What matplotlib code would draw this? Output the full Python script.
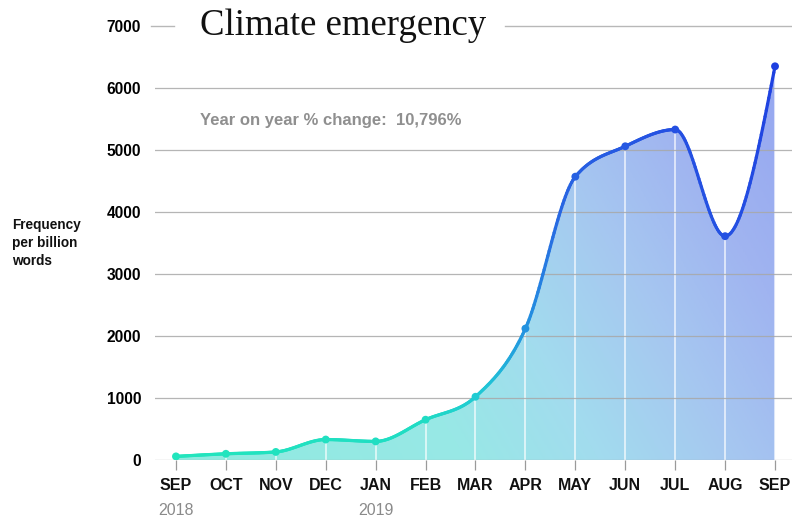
import numpy as np
import matplotlib
matplotlib.use("Agg")
import matplotlib.pyplot as plt
from matplotlib.collections import LineCollection
from matplotlib.colors import LinearSegmentedColormap
from matplotlib.patches import Polygon

# Monthly frequency per billion words for "climate emergency"
months = ["SEP", "OCT", "NOV", "DEC", "JAN", "FEB", "MAR",
          "APR", "MAY", "JUN", "JUL", "AUG", "SEP"]
years = {0: "2018", 4: "2019"}
frequency = [58, 100, 130, 330, 300, 650, 1020,
             2120, 4570, 5060, 5330, 3610, 6350]
y_ticks = [0, 1000, 2000, 3000, 4000, 5000, 6000, 7000]
title = "Climate emergency"
note = "Year on year % change:  10,796%"
ylabel = "Frequency\nper billion\nwords"


def monotone_curve(x, y, n=40):
    """Monotone cubic interpolation (Steffen slopes, as in d3.curveMonotoneX)."""
    x = np.asarray(x, float)
    y = np.asarray(y, float)
    h = np.diff(x)
    s = np.diff(y) / h
    t = np.zeros_like(y)
    for i in range(1, len(y) - 1):
        p = (s[i - 1] * h[i] + s[i] * h[i - 1]) / (h[i - 1] + h[i])
        t[i] = (np.sign(s[i - 1]) + np.sign(s[i])) * min(
            abs(s[i - 1]), abs(s[i]), 0.5 * abs(p))
    t[0] = (3 * s[0] - t[1]) / 2
    t[-1] = (3 * s[-1] - t[-2]) / 2
    xs, ys = [], []
    for i in range(len(x) - 1):
        u = np.linspace(0, 1, n, endpoint=False)
        h00 = 2 * u**3 - 3 * u**2 + 1
        h10 = u**3 - 2 * u**2 + u
        h01 = -2 * u**3 + 3 * u**2
        h11 = u**3 - u**2
        xs.append(x[i] + u * h[i])
        ys.append(h00 * y[i] + h10 * h[i] * t[i] + h01 * y[i + 1] + h11 * h[i] * t[i + 1])
    xs.append([x[-1]])
    ys.append([y[-1]])
    return np.concatenate(xs), np.concatenate(ys)


XLIM = (-0.42, 12.34)
YLIM = (0, 7000)
AX_W, AX_H = 637, 434  # axes size in pixels


def diag(x, y, angle=30):
    """Position along a bottom-left -> top-right gradient axis (0..1)."""
    px = (np.asarray(x) - XLIM[0]) / (XLIM[1] - XLIM[0]) * AX_W
    py = (np.asarray(y) - YLIM[0]) / (YLIM[1] - YLIM[0]) * AX_H
    a = np.deg2rad(angle)
    return (px * np.cos(a) + py * np.sin(a)) / (AX_W * np.cos(a) + AX_H * np.sin(a))


xi = np.arange(len(months))
cx, cy = monotone_curve(xi, frequency)
xmax = xi[-1]

line_cmap = LinearSegmentedColormap.from_list(
    "line", [(0.0, "#22e6bc"), (0.33, "#20dcc4"), (0.42, "#20c6d6"),
             (0.5, "#2394e0"), (0.62, "#2866e2"), (0.8, "#2450e2"),
             (1.0, "#1c3ce0")])
fill_cmap = LinearSegmentedColormap.from_list(
    "fill", [(0.0, "#8eebdf"), (0.35, "#98e8e6"), (0.5, "#a2dcee"),
             (0.65, "#a6c8f0"), (0.8, "#a0b4f0"), (1.0, "#93a3f0")])

fig = plt.figure(figsize=(7.92, 5.21), dpi=100)
ax = fig.add_axes([155 / 792, 61 / 521, AX_W / 792, AX_H / 521])
ax.set_xlim(*XLIM)
ax.set_ylim(*YLIM)
for sp in ax.spines.values():
    sp.set_visible(False)

# Diagonal gradient area under the curve
gx, gy = np.meshgrid(np.linspace(*XLIM, 400), np.linspace(*YLIM, 300))
img = ax.imshow(diag(gx, gy), cmap=fill_cmap, vmin=0, vmax=1,
                extent=[XLIM[0], XLIM[1], YLIM[0], YLIM[1]], origin="lower",
                aspect="auto", zorder=1, interpolation="bilinear")
poly = Polygon(np.column_stack([np.r_[cx, xmax, 0], np.r_[cy, 0, 0]]),
               closed=True, transform=ax.transData, facecolor="none",
               edgecolor="none")
ax.add_patch(poly)
img.set_clip_path(poly)

# White month dividers inside the area
for i, v in zip(xi, frequency):
    ax.plot([i, i], [0, v], color="white", lw=1.2, alpha=0.75, zorder=2)

# Horizontal gridlines (top one broken by the title)
for yt in y_ticks:
    if yt == 7000:
        ax.plot([-0.5, -0.04], [yt, yt], color="#b8b8b8", lw=1.0, zorder=3,
                clip_on=False)
        ax.plot([6.59, XLIM[1]], [yt, yt], color="#b8b8b8", lw=1.0, zorder=3,
                clip_on=False)
    else:
        ax.axhline(yt, color="#a8a8a8", lw=0.9, zorder=3, alpha=0.85)

# Gradient line with markers
pts = np.column_stack([cx, cy]).reshape(-1, 1, 2)
segs = np.concatenate([pts[:-1], pts[1:]], axis=1)
lc = LineCollection(segs, cmap=line_cmap, linewidth=2.3, zorder=4,
                    capstyle="round", joinstyle="round")
lc.set_array(diag((cx[:-1] + cx[1:]) / 2, (cy[:-1] + cy[1:]) / 2))
lc.set_clim(0, 1)
ax.add_collection(lc)
ax.scatter(xi, frequency, s=32, c=diag(xi, frequency), cmap=line_cmap,
           vmin=0, vmax=1, zorder=5, linewidths=0)

# Axis ticks and labels
ax.set_yticks(y_ticks)
ax.set_yticklabels([str(v) for v in y_ticks], fontsize=11.2,
                   fontweight="bold", family="Liberation Sans")
ax.tick_params(axis="y", length=0, pad=10)
ax.set_xticks(xi)
ax.set_xticklabels(months, fontsize=11.5, fontweight="bold",
                   family="Liberation Sans", color="#111111")
ax.tick_params(axis="x", length=7, width=0.9, color="#9a9a9a", pad=6)

for i, yr in years.items():
    ax.text(i, -700, yr, ha="center", va="top", fontsize=11.5,
            color="#8a8a8a", family="Liberation Sans", clip_on=False)

fig.text(12 / 792, 1 - 243 / 521, ylabel, ha="left", va="center",
         fontsize=9.8, fontweight="bold", family="Liberation Sans",
         linespacing=1.4, color="#111111")

fig.text(200 / 792, 1 - 26 / 521, title, ha="left", va="center",
         fontsize=26.5, family="Liberation Serif", color="#111111")
ax.text(0.48, 5480, note, ha="left", va="center", fontsize=12,
        fontweight="bold", family="Liberation Sans", color="#8f8f8f")

fig.savefig("out.png", dpi=100)
